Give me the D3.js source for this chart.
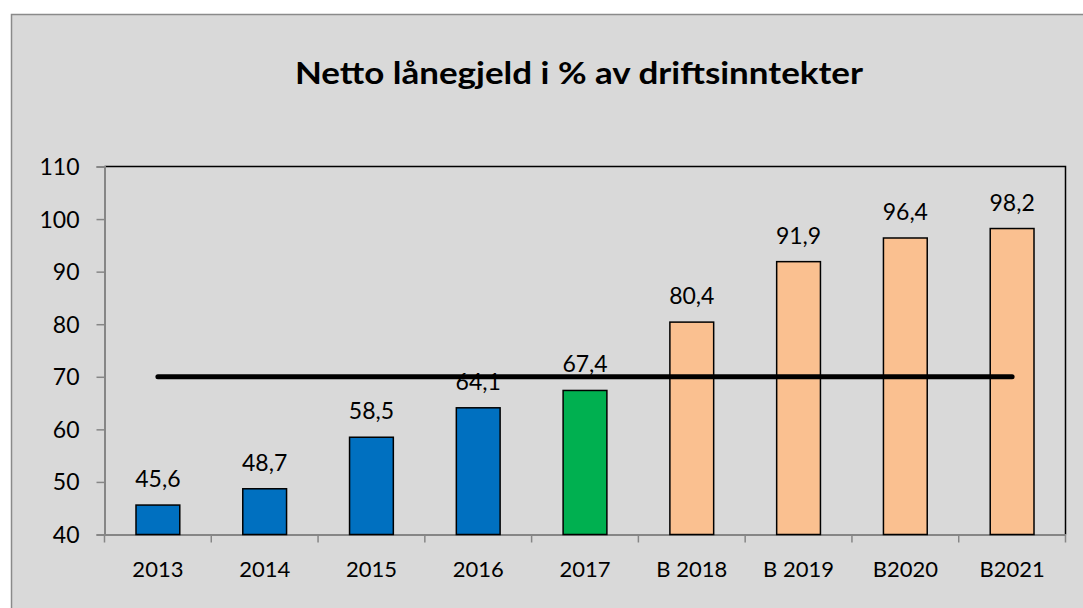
<!DOCTYPE html>
<html lang="no">
<head>
    <meta charset="UTF-8">
    <title>Netto lånegjeld i % av driftsinntekter</title>
    <script src="https://d3js.org/d3.v7.min.js"></script>
    <style>
        body { margin: 0; background: #fff; }
        text { font-family: Lato, "Open Sans", sans-serif; fill: #000; }
    </style>
</head>
<body>
<div id="chart"></div>
<script>

    // data
    var categories = ["2013", "2014", "2015", "2016", "2017", "B 2018", "B 2019", "B2020", "B2021"];
    var values = [45.6, 48.7, 58.5, 64.1, 67.4, 80.4, 91.9, 96.4, 98.2];
    var limitValues = [70, 70, 70, 70, 70, 70, 70, 70, 70];
    var yTicks = [40, 50, 60, 70, 80, 90, 100, 110];
    var title = "Netto lånegjeld i % av driftsinntekter";

    // bar kind -> colour (regnskap, siste år, budsjett)
    var kinds = ["r", "r", "r", "r", "s", "b", "b", "b", "b"];
    var kindColor = {r: "#0070c0", s: "#00b050", b: "#fac090"};

    var W = 1083, H = 608;
    var margin = {top: 166.5, right: 17.5, bottom: 73.5, left: 104.5};
    var width = W - margin.left - margin.right,
        height = H - margin.top - margin.bottom;

    var nb = d3.formatLocale({decimal: ",", thousands: " ", grouping: [3], currency: ["", " kr"]});
    var fmt = nb.format(".1f");

    var svg = d3.select("#chart")
        .append("svg")
        .attr("width", W)
        .attr("height", H);

    // chart frame
    svg.append("rect")
        .attr("x", 11.5)
        .attr("y", 14.5)
        .attr("width", W + 20)
        .attr("height", H + 20)
        .attr("fill", "#d9d9d9")
        .attr("stroke", "#8a8a8a")
        .attr("stroke-width", 1.5);

    svg.append("text")
        .attr("x", 579)
        .attr("y", 84)
        .attr("text-anchor", "middle")
        .attr("textLength", 568)
        .attr("lengthAdjust", "spacingAndGlyphs")
        .style("font-size", "31px")
        .style("font-weight", "bold")
        .text(title);

    var g = svg.append("g")
        .attr("transform", "translate(" + margin.left + "," + margin.top + ")");

    var x = d3.scaleBand()
        .domain(categories)
        .range([0, width])
        .paddingInner(0.59)
        .paddingOuter(0.295);

    // full-step scale for tick marks between categories
    var xs = d3.scaleBand().domain(categories).range([0, width]).padding(0);

    var y = d3.scaleLinear()
        .domain([40, 110])
        .range([height, 0]);

    // plot border top / right
    g.append("path")
        .attr("d", "M0,0H" + width + "V" + height)
        .attr("fill", "none")
        .attr("stroke", "#000")
        .attr("stroke-width", 1.5);

    // y axis
    var yAxis = g.append("g")
        .call(d3.axisLeft(y).tickValues(yTicks).tickSize(8).tickPadding(17));
    yAxis.select(".domain").attr("stroke", "#868686").attr("stroke-width", 2);
    yAxis.selectAll(".tick line").attr("stroke", "#868686").attr("stroke-width", 1.5);
    yAxis.selectAll(".tick text").style("font-size", "23px").attr("dy", "0.35em")
        .style("font-family", "Lato, sans-serif");

    // x axis
    var xAxis = g.append("g")
        .attr("transform", "translate(0," + height + ")")
        .call(d3.axisBottom(x).tickSize(0).tickPadding(27));
    xAxis.select(".domain").attr("stroke", "#868686").attr("stroke-width", 2);
    xAxis.selectAll(".tick text").style("font-size", "22px")
        .style("font-family", "Lato, sans-serif");

    xAxis.selectAll("line.sep")
        .data(categories.concat([null]))
        .enter()
        .append("line")
        .attr("class", "sep")
        .attr("x1", function(d, i) { return i < categories.length ? xs(d) : width; })
        .attr("x2", function(d, i) { return i < categories.length ? xs(d) : width; })
        .attr("y1", 0)
        .attr("y2", 8)
        .attr("stroke", "#868686")
        .attr("stroke-width", 1.5);

    // bars
    g.selectAll("rect.bar")
        .data(values)
        .enter()
        .append("rect")
        .attr("class", "bar")
        .attr("x", function(d, i) { return x(categories[i]); })
        .attr("y", function(d) { return y(d); })
        .attr("width", x.bandwidth())
        .attr("height", function(d) { return height - y(d); })
        .attr("fill", function(d, i) { return kindColor[kinds[i]]; })
        .attr("stroke", "#000")
        .attr("stroke-width", 1.5);

    // value labels
    g.selectAll("text.lbl")
        .data(values)
        .enter()
        .append("text")
        .attr("class", "lbl")
        .attr("x", function(d, i) { return x(categories[i]) + x.bandwidth() / 2; })
        .attr("y", function(d) { return y(d) - 18; })
        .attr("text-anchor", "middle")
        .style("font-size", "23px")
        .text(function(d) { return fmt(d); });

    // limit line at 70
    var line = d3.line()
        .x(function(d, i) { return x(categories[i]) + x.bandwidth() / 2; })
        .y(function(d) { return y(d); });

    g.append("path")
        .datum(limitValues)
        .attr("d", line)
        .attr("fill", "none")
        .attr("stroke", "#000")
        .attr("stroke-width", 5)
        .attr("stroke-linecap", "round");

</script>
</body>
</html>
